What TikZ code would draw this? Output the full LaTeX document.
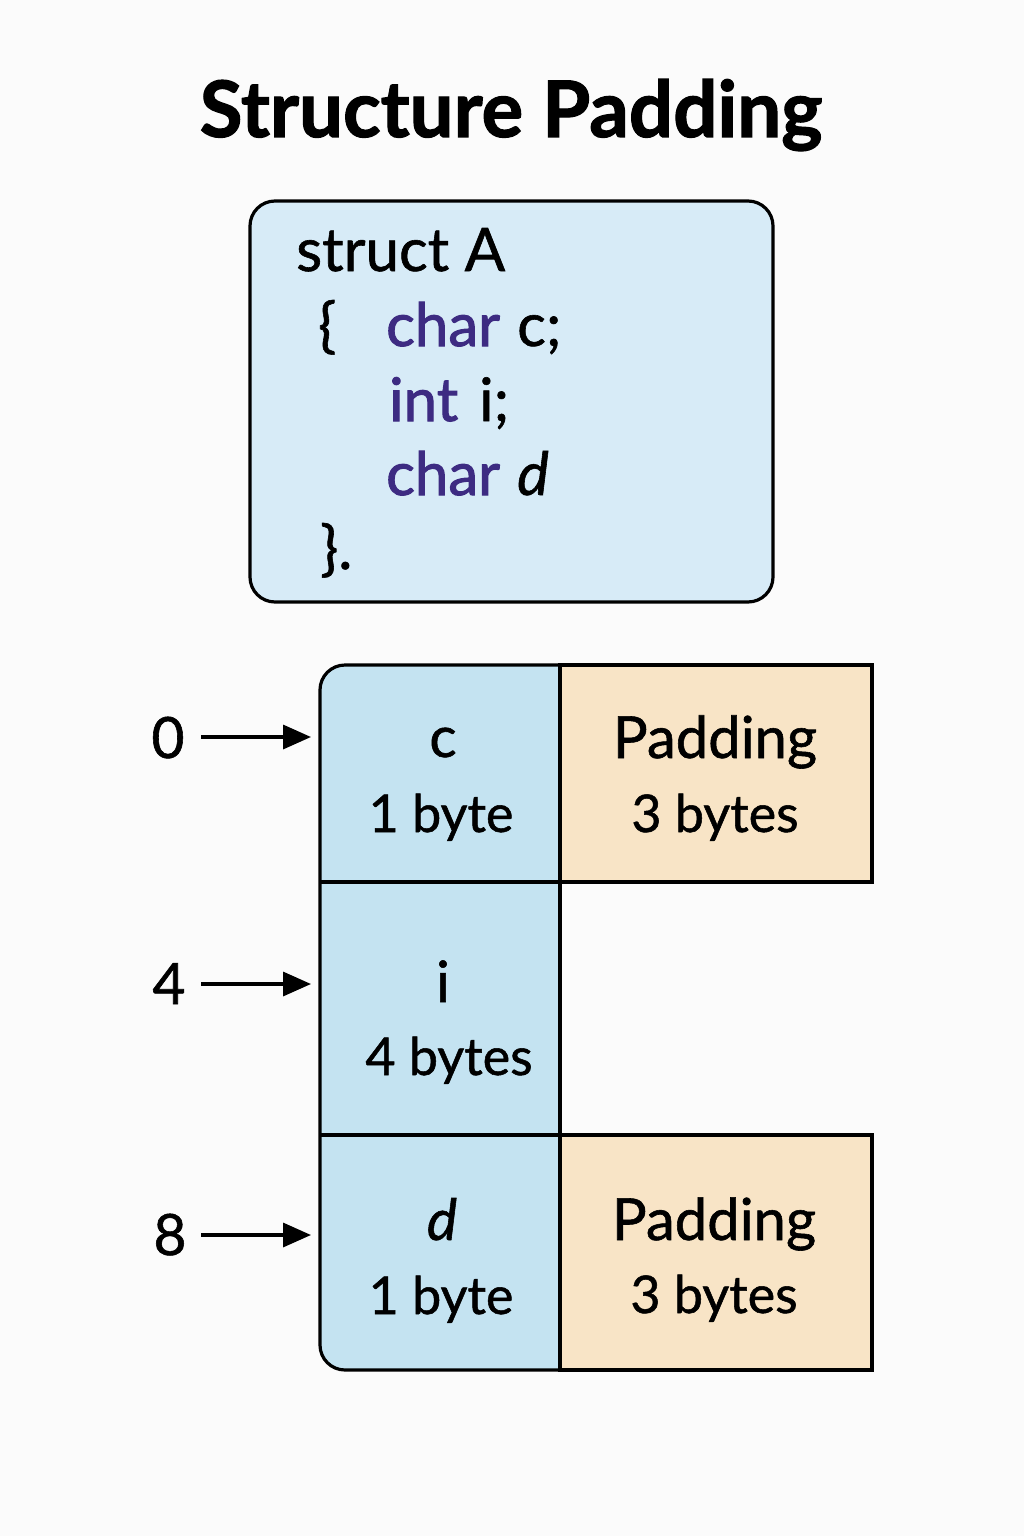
\documentclass[tikz,border=0pt]{standalone}
\usepackage{fontspec}
\setmainfont{Lato}[FakeBold=1.0]
\newfontfamily\titlefont{Lato}[BoldFeatures={FakeBold=1.5}]
\newfontfamily\kwfont{Lato}[FakeBold=1.7]
\usetikzlibrary{arrows.meta}
\definecolor{bgc}{HTML}{FBFBFB}
\definecolor{codefill}{HTML}{D7EBF7}
\definecolor{cellblue}{HTML}{C4E3F1}
\definecolor{peach}{HTML}{F8E4C6}
\definecolor{kw}{HTML}{3D2B82}
\tikzset{
  codetxt/.style={anchor=base west, inner sep=0pt, font=\fontsize{60}{60}\selectfont},
  kwtxt/.style={anchor=base west, inner sep=0pt, text=kw, font=\fontsize{60}{60}\kwfont},
  celltxt/.style={anchor=base, inner sep=0pt, font=\fontsize{52}{52}\selectfont},
  namtxt/.style={anchor=base, inner sep=0pt, font=\fontsize{57}{57}\selectfont},
  padtxt/.style={anchor=base, inner sep=0pt, font=\fontsize{58}{58}\selectfont},
  offtxt/.style={anchor=base, inner sep=0pt, font=\fontsize{57}{57}\selectfont},
  border/.style={line width=3.2pt, draw=black},
  ptr/.style={line width=3.4pt, -{Triangle[length=28pt,width=24pt]}},
}
\begin{document}
\begin{tikzpicture}[x=1pt,y=-1pt]
\fill[bgc] (0,0) rectangle (1024,1536);
\useasboundingbox (0,0) rectangle (1024,1536);
% title
\node[anchor=base, inner sep=0pt, font=\fontsize{78}{78}\titlefont\bfseries] (title) at (511,137) {Structure Padding};
% code box
\draw[border, fill=codefill, rounded corners=25pt] (250,201) rectangle (773,602);
\node[codetxt] (l1) at (296,271) {struct A};
\node[codetxt] (l2a) at (318,346) {\{};
\node[kwtxt] (l2b) at (386,346) {char};
\node[codetxt] (l2c) at (517,346) {c;};
\node[kwtxt] (l3a) at (389,421) {int};
\node[codetxt] (l3b) at (479,421) {i;};
\node[kwtxt] (l4a) at (386,495) {char};
\node[codetxt] (l4b) at (517,495) {\itshape d};
\node[codetxt] (l5) at (320,569) {\}.};
% memory layout
\fill[cellblue, rounded corners=25pt] (560,665) -- (320,665) -- (320,1370) [sharp corners] -- (560,1370) -- cycle;
\fill[peach] (560,665) rectangle (872,882);
\fill[peach] (560,1135) rectangle (872,1370);
\draw[border, rounded corners=25pt] (560,665) -- (320,665) -- (320,1370) [sharp corners] -- (560,1370);
\draw[border] (560,665) rectangle (872,882);
\draw[border] (560,1135) rectangle (872,1370);
\draw[border] (560,665) -- (560,1370);
\draw[border] (320,882) -- (560,882);
\draw[border] (320,1135) -- (560,1135);
% cell texts
\node[namtxt] (c1) at (443,757) {c};
\node[celltxt] (c2) at (441,832) {1 byte};
\node[padtxt] (p1) at (715,758) {Padding};
\node[celltxt] (p2) at (715,832) {3 bytes};
\node[namtxt] (i1) at (443,1002) {i};
\node[celltxt] (i2) at (449,1075) {4 bytes};
\node[namtxt] (d1) at (442,1240) {\itshape d};
\node[celltxt] (d2) at (441,1314) {1 byte};
\node[padtxt] (q1) at (714,1240) {Padding};
\node[celltxt] (q2) at (714,1313) {3 bytes};
% offsets
\node[offtxt] (o0) at (168,758) {0};
\node[offtxt] (o4) at (169,1004) {4};
\node[offtxt] (o8) at (170,1255) {8};
\coordinate (e0) at (311,737);
\coordinate (e4) at (311,984);
\coordinate (e8) at (311,1235);
\draw[ptr] (201,737) -- (e0);
\draw[ptr] (201,984) -- (e4);
\draw[ptr] (201,1235) -- (e8);
\end{tikzpicture}
\end{document}
